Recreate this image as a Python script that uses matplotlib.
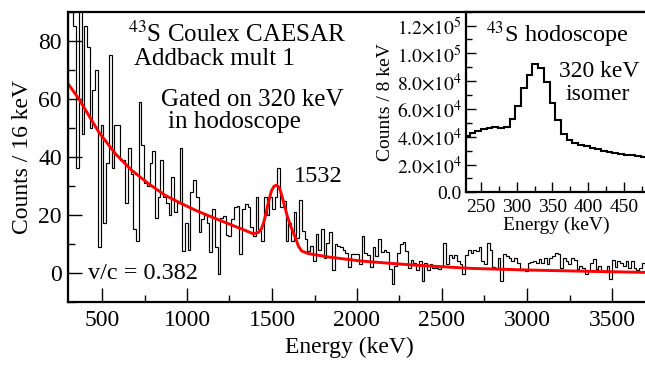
# -*- coding: utf-8 -*-
# 43S Coulex CAESAR spectrum, gated on 320 keV isomer, with hodoscope inset

import numpy as np
import matplotlib
matplotlib.use('Agg')
import matplotlib.pyplot as plt
from matplotlib.ticker import MultipleLocator, FuncFormatter

# ---------------------------------------------------------------------------
# main spectrum: counts per 16 keV bin, first bin starts at 300 keV
bin_start = 300;
bin_width = 16;
counts_300_1000 = [92, 95, 85, 36, 95, 48, 85, 78, 50, 63, 70, 9, 51, 17, 38,
                   75, 36, 51, 51, 39, 39, 24, 43, 34, 15, 11, 59, 44, 31, 30,
                   38, 42, 19, 26, 39, 26, 24, 20, 33, 21, 24, 43, 7.5, 17]
counts_1000_1530 = [8, 28, 32, 26, 14, 18.5, 20, 17, 7, 22, 9, -0.6, 19, 19.6,
                    13, 12.7, 18.5, 22.5, 23, 6.4, 22, 23.7, 22.5, 15.6, 12.7,
                    26, 15, 11, 26, 20, 26, 22, 26]
counts_peak = [36, 22.5, 24.8, 11, 17, 11, 21, 12, 25]
counts_1680_2350 = [14.4, 11.5, 7.5, 9.2, 4, 13.3, 8, 15, 5, 10.4, 13.9, 0.8,
                    9.8, 9.2, 8.7, 8, 6.9, 2, 6.3, 6.6, 6.3, 2.9, 12.7, 6.9,
                    6.1, 2, 8.9, 5.8, 11.5, 7.3, 8, 7.3, 1.2, -4, 2.3, 6.9,
                    9.8, 10.7, 7.5, 1.5, 4.3, 3.5]
counts_2350_3030 = [0.8, 4, -2.7, 3.5, 0.8, 2.9, 1.7, 1.5, 1.2, 2.3, 10.4, 2.9,
                    6.1, 5.2, 6.1, 4, 2.9, -0.3, 6.1, 8, 6.9, 8, 7.5, 8.7, 4,
                    2.9, 10.4, 8, 2, 1.7, 5.2, -2.9, 6.6, 5.8, 5, 4, 5, 3.5,
                    0.8, 1.2, 0.6, 3.5]
counts_3030_3710 = [3.8, 4, 3.5, 4.6, 3.5, 5.2, 2.9, 5, 5.8, 6.9, 6.3, 1.5, 5,
                    4, 3.1, 5.2, 4.3, 1.2, 2.3, 1.5, -0.3, 0.6, 3.5, 4.6, 1.2,
                    2.3, 0.6, 0.3, 2.3, -2, 4.3, 2, 4, 3.5, 2.3, 4, 1.5, 4,
                    1.5, 0.8, 1.5, 3.5, 2.5]

# fit curve (exponential background + gaussian at 1532 keV)
fit_energy = [300, 363, 481, 579, 677, 776, 874, 972, 1055, 1153, 1252, 1350,
              1390, 1420, 1435, 1448, 1460, 1472, 1485, 1497, 1512, 1527, 1540,
              1548, 1562, 1576, 1590, 1606, 1620, 1635, 1655, 1674, 1714, 1832,
              2028, 2225, 2343, 2668, 3022, 3346, 3700]
fit_counts = [65.2, 60, 48.5, 41, 35.2, 30.6, 26.6, 23.7, 21.4, 19, 16.7, 14.4,
              13.4, 13.9, 14.8, 16.7, 19.3, 22.5, 25.7, 28.3, 29.8, 30.2, 29.5,
              28.5, 25.7, 22.5, 19.5, 16.7, 14.5, 12.5, 9.2, 7.5, 6.6, 5.4,
              4.0, 3.1, 2.6, 1.5, 0.9, 0.5, 0.1]

# inset: hodoscope energy, counts per 8 keV, first bin starts at 226 keV
hodo_start = 226;
hodo_width = 8;
hodo_counts = [40.5e3, 42.5e3, 44.4e3, 45.6e3, 46.3e3, 46.8e3, 46.5e3, 47.3e3,
               52.8e3, 62.4e3, 74.9e3, 84.5e3, 92.2e3, 89.3e3, 79.7e3, 64.1e3,
               52.1e3, 42.0e3, 37.7e3, 35.7e3, 34.3e3, 33.0e3, 31.9e3, 30.9e3,
               30.0e3, 29.2e3, 28.5e3, 27.8e3, 27.2e3, 26.6e3, 26.1e3, 25.6e3,
               25.2e3]

W, H = 645., 366.;

def frac(x0, y0, x1, y1):
    # pixel box (top-left origin) -> figure fraction
    return [x0/W, 1 - y1/H, (x1 - x0)/W, (y1 - y0)/H];

def sci_fmt(v, pos):
    if v <= 0:
        return '0.0';
    e = int(np.floor(np.log10(v) + 1e-9));
    m = v/10**e;
    return r'$%.1f{\times}10^{%d}$' %(m, e);

def plot_main(ax):
    counts = np.concatenate([counts_300_1000, counts_1000_1530, counts_peak,
                             counts_1680_2350, counts_2350_3030, counts_3030_3710]);
    edges = bin_start + bin_width*np.arange(len(counts) + 1);
    ax.stairs(counts, edges, color='k', lw=0.85);
    ax.plot(fit_energy, fit_counts, color='#ff0000', lw=2.1, solid_capstyle='round');
    ax.set_xlim(300, 3700);
    ax.set_ylim(-10, 90);
    ax.xaxis.set_major_locator(MultipleLocator(500));
    ax.xaxis.set_minor_locator(MultipleLocator(250));
    ax.yaxis.set_major_locator(MultipleLocator(20));
    ax.yaxis.set_minor_locator(MultipleLocator(10));
    ax.tick_params(which='both', direction='in', top=False, right=False,
                   width=1.0, labelsize=17);
    ax.tick_params(which='major', length=10);
    ax.tick_params(which='minor', length=5);
    ax.tick_params(axis='x', which='major', pad=6);
    ax.tick_params(axis='y', which='major', pad=4.5);
    for s in ['left', 'bottom', 'top']:
        ax.spines[s].set_linewidth(1.6);
    ax.spines['right'].set_visible(False);
    ax.set_xlabel('Energy (keV)', fontsize=17);
    ax.xaxis.set_label_coords(0.486, -0.12);
    ax.set_ylabel('Counts / 16 keV', fontsize=17, labelpad=4);
    ax.text(651, 79.5, r'$^{43}$S Coulex CAESAR', fontsize=18);
    ax.text(688, 71.6, 'Addback mult 1', fontsize=18);
    ax.text(847, 57.4, 'Gated on 320 keV', fontsize=18);
    ax.text(886, 49.8, 'in hodoscope', fontsize=18);
    ax.text(1631, 31.2, '1532', fontsize=17.5);
    ax.text(416, -2.3, 'v/c = 0.382', fontsize=17.5);
    return 0;

def plot_inset(ax):
    edges = hodo_start + hodo_width*np.arange(len(hodo_counts) + 1);
    ax.stairs(hodo_counts, edges, color='k', lw=1.5);
    ax.set_xlim(229, 481);
    ax.set_ylim(0, 1.3e5);
    ax.xaxis.set_major_locator(MultipleLocator(50));
    ax.xaxis.set_minor_locator(MultipleLocator(25));
    ax.yaxis.set_major_locator(MultipleLocator(2e4));
    ax.yaxis.set_minor_locator(MultipleLocator(1e4));
    ax.yaxis.set_major_formatter(FuncFormatter(sci_fmt));
    ax.tick_params(which='both', direction='in', top=False, right=False,
                   width=1.0, labelsize=14);
    ax.tick_params(which='major', length=7);
    ax.tick_params(which='minor', length=4);
    ax.tick_params(axis='x', which='major', pad=5);
    ax.tick_params(axis='y', which='major', pad=3);
    for s in ['left', 'bottom', 'top']:
        ax.spines[s].set_linewidth(1.6);
    ax.spines['right'].set_visible(False);
    ax.set_xlabel('Energy (keV)', fontsize=14, labelpad=0);
    ax.set_ylabel('Counts / 8 keV', fontsize=14, labelpad=2);
    ax.text(0.11, 0.83, r'$^{43}$S hodoscope', fontsize=17.5, transform=ax.transAxes);
    ax.text(0.515, 0.64, '320 keV', fontsize=17, transform=ax.transAxes);
    ax.text(0.555, 0.51, 'isomer', fontsize=17, transform=ax.transAxes);
    return 0;

def main():
    plt.rcParams['font.family'] = ['Liberation Serif', 'DejaVu Serif'];
    plt.rcParams['mathtext.fontset'] = 'stix';
    fig = plt.figure(figsize=(6.45, 3.66), dpi=100);
    ax = fig.add_axes(frac(68, 11.7, 646, 301.7));
    plot_main(ax);
    axin = fig.add_axes(frac(466, 11.7, 646, 192.3));
    plot_inset(axin);
    fig.savefig('out.png', dpi=100);
    plt.close(fig);
    return 0;

if __name__=="__main__":
    main()
